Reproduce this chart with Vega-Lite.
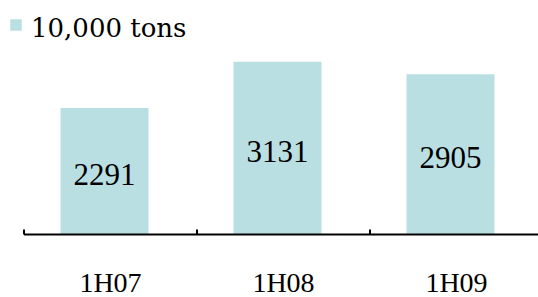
{
  "$schema": "https://vega.github.io/schema/vega-lite/v6.json",
  "width": 515,
  "height": 220,
  "autosize": {"type": "none"},
  "padding": {"left": 23.5, "top": 14, "right": 0, "bottom": 63},
  "background": "white",
  "data": {
    "values": [
      {"period": "1H07", "value": 2291, "series": "10,000 tons"},
      {"period": "1H08", "value": 3131, "series": "10,000 tons"},
      {"period": "1H09", "value": 2905, "series": "10,000 tons"}
    ]
  },
  "encoding": {
    "x": {
      "field": "period",
      "type": "nominal",
      "sort": null,
      "title": null,
      "scale": {"paddingInner": 0.4913, "paddingOuter": 0.2457, "range": [0, 519]},
      "axis": {
        "orient": "bottom",
        "zindex": 1,
        "domain": true,
        "domainColor": "#000000",
        "domainWidth": 2,
        "ticks": true,
        "bandPosition": 0,
        "tickOffset": -42.5,
        "labelOffset": 42.5,
        "tickColor": "#000000",
        "tickWidth": 2,
        "tickSize": -5,
        "labelFont": "Liberation Serif",
        "labelFontSize": 28,
        "labelColor": "#000000",
        "labelAngle": 0,
        "labelBaseline": "alphabetic",
        "labelPadding": 62,
        "grid": false
      }
    }
  },
  "layer": [
    {
      "mark": {"type": "bar", "xOffset": -5.5},
      "encoding": {
        "y": {"field": "value", "type": "quantitative", "scale": {"domain": [0, 4000], "nice": false}, "axis": null},
        "color": {
          "field": "series",
          "type": "nominal",
          "scale": {"range": ["#b9dfe3"]},
          "legend": {
            "title": null,
            "orient": "none",
            "legendX": -20.5,
            "legendY": 1.5,
            "padding": 0,
            "labelFont": "DejaVu Serif",
            "labelFontSize": 26,
            "labelColor": "#000000",
            "labelOffset": 2,
            "labelLimit": 300,
            "symbolType": "M-1,-1.61H1V0.39H-1Z",
            "symbolSize": 132,
            "symbolStrokeWidth": 0
          }
        }
      }
    },
    {
      "mark": {"type": "text", "xOffset": -5.5, "dy": 5, "font": "Liberation Serif", "fontSize": 31, "color": "#000000", "baseline": "middle", "align": "center"},
      "encoding": {
        "y": {"field": "value", "type": "quantitative", "scale": {"domain": [0, 8000], "nice": false}, "axis": null},
        "text": {"field": "value", "type": "quantitative"}
      }
    }
  ],
  "resolve": {"scale": {"y": "independent"}},
  "config": {"view": {"stroke": null}}
}
